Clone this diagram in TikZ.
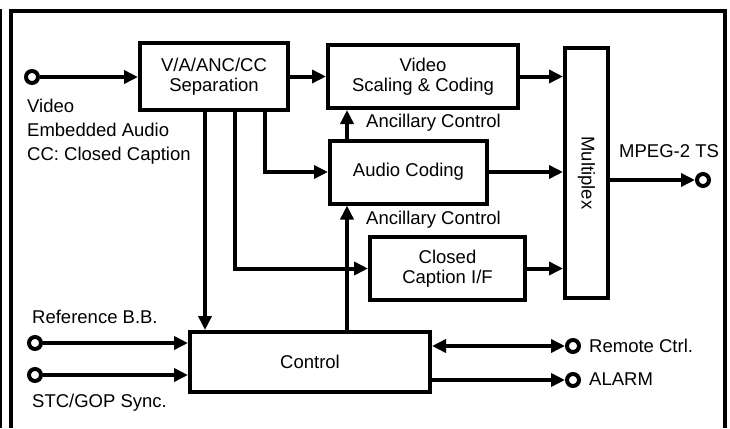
\documentclass[tikz,border=0pt]{standalone}
\usepackage{fontspec}
\setmainfont{Liberation Sans}
\usetikzlibrary{arrows.meta}
\tikzset{
  block/.style={draw,line width=4pt,align=center,inner sep=0pt,font=\fontsize{18.5}{20}\selectfont},
  arr/.style={line width=4pt,-{Triangle[length=14pt,width=13pt]}},
  biarr/.style={line width=4pt,{Triangle[length=14pt,width=13pt]}-{Triangle[length=14pt,width=13pt]}},
  port/.style={draw,circle,line width=4pt,inner sep=0pt,minimum size=12pt},
  lbl/.style={inner sep=0pt,anchor=base west,font=\fontsize{18.5}{20}\selectfont}
}
\begin{document}
\begin{tikzpicture}[x=1pt,y=-1pt]
\useasboundingbox (0,0) rectangle (730,428);
\draw[line width=4.5pt] (11,428) -- (11,11) -- (725,11) -- (725,428);
\draw[line width=2pt] (1,9) -- (1,428);

% blocks
\node[block,minimum width=148pt,minimum height=67pt] (sep) at (214,76.5) {V/A/ANC/CC\\Separation};
\node[block,minimum width=190pt,minimum height=63pt] (vsc) at (423,76.5) {Video\\Scaling \& Coding};
\node[block,minimum width=157pt,minimum height=63pt] (aud) at (408.5,172) {Audio Coding};
\node[block,minimum width=155pt,minimum height=63pt] (ccf) at (447.5,268.5) {Closed\\Caption I/F};
\node[block,minimum width=43pt,minimum height=250pt] (mux) at (586.5,173) {};
\node[lbl,anchor=center,rotate=-90] (muxt) at (mux) {Multiplex};
\node[block,minimum width=240pt,minimum height=60pt] (ctl) at (310,362) {Control};

% ports
\node[port] (vin) at (32,77) {};
\node[port] (ref) at (35,343) {};
\node[port] (stc) at (35,375) {};
\node[port] (out) at (703,180) {};
\node[port] (rem) at (573,346) {};
\node[port] (alm) at (573,380) {};

% taps
\coordinate (s1) at (205,110);
\coordinate (s2) at (235,110);
\coordinate (s3) at (265,110);
\coordinate (anc) at (347,0);

% connectors
\draw[arr] (vin) -- (vin -| sep.west);
\draw[arr] (sep.east) -- (vsc.west);
\draw[arr] (s3 |- sep.south) |- (aud.west);
\draw[arr] (s2 |- sep.south) |- (ccf.west);
\draw[arr] (s1 |- sep.south) -- (s1 |- ctl.north);
\draw[arr] (anc |- aud.north) -- (anc |- vsc.south);
\draw[arr] (anc |- ctl.north) -- (anc |- aud.south);
\draw[arr] (vsc.east) -- (vsc.east -| mux.west);
\draw[arr] (aud.east) -- (aud.east -| mux.west);
\draw[arr] (ccf.east) -- (ccf.east -| mux.west);
\draw[arr] (mux.east |- out) -- (out);
\draw[arr] (ref) -- (ref -| ctl.west);
\draw[arr] (stc) -- (stc -| ctl.west);
\draw[biarr] (ctl.east |- rem) -- (rem);
\draw[arr] (ctl.east |- alm) -- (alm);

% labels
\node[lbl] (l1) at (27,112) {Video};
\node[lbl] (l2) at (27,136) {Embedded Audio};
\node[lbl] (l3) at (27,160) {CC: Closed Caption};
\node[lbl] (anc1) at (366,127) {Ancillary Control};
\node[lbl] (anc2) at (366,224) {Ancillary Control};
\node[lbl] (mpeg) at (619,157) {MPEG-2 TS};
\node[lbl] (refl) at (32,323) {Reference B.B.};
\node[lbl] (stcl) at (32,407) {STC/GOP Sync.};
\node[lbl] (reml) at (589,352) {Remote Ctrl.};
\node[lbl] (alml) at (589,385) {ALARM};
\end{tikzpicture}
\end{document}
